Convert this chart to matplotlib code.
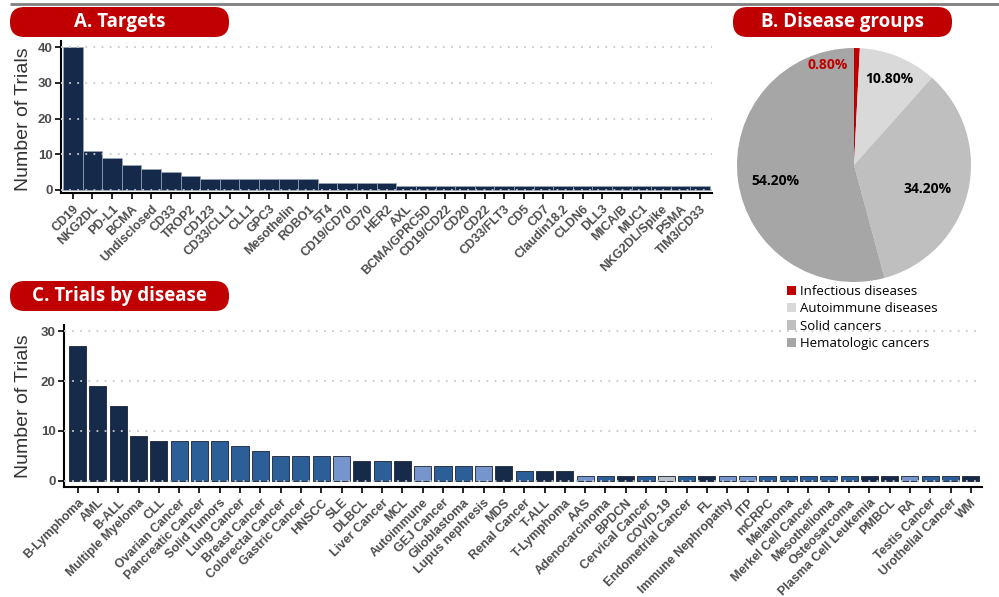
import matplotlib
matplotlib.use("Agg")
import matplotlib.pyplot as plt
from matplotlib.patches import FancyBboxPatch, Patch
import numpy as np

# ---------------- data ----------------
target_names = ["CD19", "NKG2DL", "PD-L1", "BCMA", "Undisclosed", "CD33", "TROP2", "CD123",
                "CD33/CLL1", "CLL1", "GPC3", "Mesothelin", "ROBO1", "5T4", "CD19/CD70", "CD70",
                "HER2", "AXL", "BCMA/GPRC5D", "CD19/CD22", "CD20", "CD22", "CD33/FLT3", "CD5",
                "CD7", "Claudin18.2", "CLDN6", "DLL3", "MICA/B", "MUC1", "NKG2DL/Spike", "PSMA",
                "TIM3/CD33"]
target_trials = [40, 11, 9, 7, 6, 5, 4, 3, 3, 3, 3, 3, 3, 2, 2, 2, 2,
                 1, 1, 1, 1, 1, 1, 1, 1, 1, 1, 1, 1, 1, 1, 1, 1]

group_names = ["Infectious diseases", "Autoimmune diseases", "Solid cancers", "Hematologic cancers"]
group_pct = [0.80, 10.80, 34.20, 54.20]

disease_names = ["B-Lymphoma", "AML", "B-ALL", "Multiple Myeloma", "CLL", "Ovarian Cancer",
                 "Pancreatic Cancer", "Solid Tumors", "Lung Cancer", "Breast Cancer",
                 "Colorectal Cancer", "Gastric Cancer", "HNSCC", "SLE", "DLBCL", "Liver Cancer",
                 "MCL", "Autoimmune", "GEJ Cancer", "Glioblastoma", "Lupus nephresis", "MDS",
                 "Renal Cancer", "T-ALL", "T-Lymphoma", "AAS", "Adenocarcinoma", "BPDCN",
                 "Cervical Cancer", "COVID-19", "Endometrial Cancer", "FL", "Immune Nephropathy",
                 "ITP", "mCRPC", "Melanoma", "Merkel Cell Cancer", "Mesothelioma", "Osteosarcoma",
                 "Plasma Cell Leukemia", "PMBCL", "RA", "Testis Cancer", "Urothelial Cancer", "WM"]
disease_trials = [27, 19, 15, 9, 8, 8, 8, 8, 7, 6, 5, 5, 5, 5, 4, 4, 4, 3, 3, 3, 3, 3,
                  2, 2, 2, 1, 1, 1, 1, 1, 1, 1, 1, 1, 1, 1, 1, 1, 1, 1, 1, 1, 1, 1, 1]
# H = hematologic, S = solid, A = autoimmune, I = infectious
disease_group = ["H", "H", "H", "H", "H", "S", "S", "S", "S", "S", "S", "S", "S", "A", "H", "S",
                 "H", "A", "S", "S", "A", "H", "S", "H", "H", "A", "S", "H", "S", "I", "S", "H",
                 "A", "A", "S", "S", "S", "S", "S", "H", "H", "A", "S", "S", "H"]

# ---------------- styles ----------------
RED = "#c00000"
NAVY = "#15294a"
group_bar_colors = {"H": "#162b4a", "S": "#2c5e98", "A": "#7595cc", "I": "#b9bfcb"}
pie_colors = [RED, "#d9d9d9", "#bfbfbf", "#a6a6a6"]
TICKC = "#4d4d4d"

W, H = 999, 597
fig = plt.figure(figsize=(W / 100, H / 100), dpi=100)

# overlay in pixel coordinates for decorations
ov = fig.add_axes([0, 0, 1, 1], zorder=-1)
ov.set_xlim(0, W)
ov.set_ylim(H, 0)
ov.axis("off")


def px_axes(l, t, r, b):
    return fig.add_axes([l / W, 1 - b / H, (r - l) / W, (b - t) / H])


def style_bar_axes(ax):
    for s in ["top", "right"]:
        ax.spines[s].set_visible(False)
    for s in ["left", "bottom"]:
        ax.spines[s].set_linewidth(1.5)
        ax.spines[s].set_color("black")
    ax.tick_params(axis="both", length=4, width=1.2, color="black")
    ax.tick_params(axis="y", labelsize=9.5, labelcolor=TICKC, pad=2)
    for lab in ax.get_yticklabels():
        lab.set_fontweight("bold")
        lab.set_family("Liberation Sans")
    ax.grid(axis="y", color="#c9c9c9", linestyle=(0, (1, 3.5)), linewidth=1.3)
    ax.grid(axis="x", visible=False)
    ax.set_axisbelow(False)


def set_xlabels(ax, names):
    ax.set_xticks(np.arange(len(names)))
    ax.set_xticklabels(names, rotation=45, ha="right", va="top", rotation_mode="anchor",
                       fontsize=9, fontweight="bold", color=TICKC, family="Liberation Sans")
    ax.tick_params(axis="x", pad=3)


# top rule
ov.plot([10, W], [4, 4], color="#808080", lw=2, solid_capstyle="butt")


def title_box(l, t, r, b, text):
    box = FancyBboxPatch((l, t), r - l, b - t, boxstyle="round,pad=0,rounding_size=14.5",
                         facecolor=RED, edgecolor="none")
    ov.add_patch(box)
    ov.text((l + r) / 2, (t + b) / 2 + 0.5, text, color="white", fontsize=13.5,
            fontweight="bold", family="Open Sans", ha="center", va="center")


# ---------------- Panel A ----------------
axA = px_axes(61, 41, 712, 193)
xA = np.arange(len(target_names))
axA.bar(xA, target_trials, width=1.0, color=NAVY, edgecolor="#9aa8b8", linewidth=0.5, zorder=1)
axA.set_xlim(-0.6, len(target_names) - 0.4)
axA.set_ylim(-0.85, 41.7)
axA.set_yticks([0, 10, 20, 30, 40])
style_bar_axes(axA)
set_xlabels(axA, target_names)
fig.text(24 / W, 1 - 119 / H, "Number of Trials", rotation=90, ha="center", va="center",
         fontsize=14, color="#333333", family="Liberation Sans")

# ---------------- Panel C ----------------
axC = px_axes(64, 325, 982, 487)
xC = np.arange(len(disease_names))
axC.bar(xC, disease_trials, width=0.84, color=[group_bar_colors[g] for g in disease_group],
        edgecolor="#1c2233", linewidth=0.6, zorder=1)
axC.set_xlim(-0.67, len(disease_names) - 0.45)
axC.set_ylim(-1.3, 31.3)
axC.set_yticks([0, 10, 20, 30])
style_bar_axes(axC)
set_xlabels(axC, disease_names)
fig.text(24 / W, 1 - 406 / H, "Number of Trials", rotation=90, ha="center", va="center",
         fontsize=14, color="#333333", family="Liberation Sans")

# ---------------- Panel B (pie) ----------------
cx, cy, R = 854, 165, 117
axB = px_axes(cx - R, cy - R, cx + R, cy + R)
wedges, _ = axB.pie(group_pct, colors=pie_colors, startangle=90, counterclock=False,
                    radius=1.0, wedgeprops=dict(linewidth=0))
axB.set_xlim(-1, 1)
axB.set_ylim(-1, 1)
axB.set_aspect("auto")
axB.axis("off")
# label placement (radius, angle shift in degrees) per slice
label_r = [0.88, 0.79, 0.66, 0.69]
label_shift = [16, 0, -5, 4]
cum = 0.0
for i, p in enumerate(group_pct):
    mid = 90 - (cum + p / 2) / 100 * 360 + label_shift[i]
    cum += p
    ang = np.deg2rad(mid)
    axB.text(label_r[i] * np.cos(ang), label_r[i] * np.sin(ang), f"{p:.2f}%",
             ha="center", va="center", fontsize=10, fontweight="bold", family="Open Sans",
             color=RED if i == 0 else "black")

handles = [Patch(facecolor=c, edgecolor="none") for c in pie_colors]
fig.legend(handles, group_names, loc="upper left", bbox_to_anchor=(787 / W, 1 - 285 / H),
           frameon=False, handlelength=0.7, handleheight=0.7, handletextpad=0.3,
           labelspacing=0.33, borderpad=0, borderaxespad=0,
           prop=dict(family="Open Sans", size=9.5))

# title boxes
title_box(10, 7, 229, 37, "A. Targets")
title_box(733, 7, 952, 37, "B. Disease groups")
title_box(10, 281, 229, 311, "C. Trials by disease")

fig.savefig("out.png", dpi=100)
